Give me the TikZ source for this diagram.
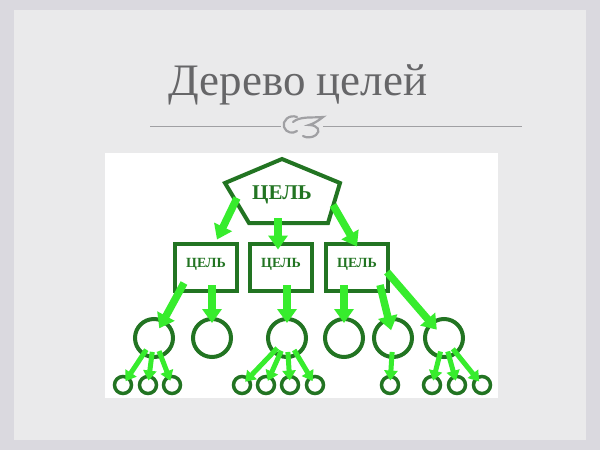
\documentclass[tikz,border=0pt]{standalone}
\usepackage{fontspec}
\setmainfont{Liberation Serif}
\usetikzlibrary{arrows.meta,calc}

\definecolor{leafgreen}{RGB}{34,116,34}
\definecolor{arrowgreen}{RGB}{55,236,45}
\definecolor{titlegray}{RGB}{102,102,104}
\definecolor{slidebg}{RGB}{234,234,235}
\definecolor{slideedge}{RGB}{218,217,223}
\definecolor{rulegray}{RGB}{160,160,163}

\tikzstyle{subgoal}=[draw=leafgreen, line width=4pt, minimum width=62pt, minimum height=47pt, text=leafgreen, font=\fontsize{14}{14}\selectfont\bfseries, text height=10.5pt, text depth=10pt]
\tikzstyle{task}=[draw=leafgreen, line width=4pt, circle, minimum size=38pt, inner sep=0pt]
\tikzstyle{leaf}=[draw=leafgreen, line width=3.5pt, circle, minimum size=17pt, inner sep=0pt]
\tikzstyle{com}=[arrowgreen, line width=7.5pt, -{Triangle[width=19pt,length=14pt]}]
\tikzstyle{comsmall}=[arrowgreen, line width=5pt, -{Triangle[width=13pt,length=10pt]}, shorten <=14pt, shorten >=4.5pt]
\tikzstyle{flourish}=[rulegray, line width=2.2pt, line cap=round]

\begin{document}
\begin{tikzpicture}[x=1pt, y=-1pt]
      \useasboundingbox (0,0) rectangle (600,450);
      \fill[slideedge] (0,0) rectangle (600,450);
      \fill[slidebg] (14,10) rectangle (586,440);

      % title and rule
      \node[anchor=base, text=titlegray, font=\fontsize{45}{45}\selectfont] (title) at (298,95) {Дерево целей};
      \draw[rulegray, line width=1pt] (150,126) -- (281,126);
      \draw[rulegray, line width=1pt] (323,126) -- (522,126);
      \draw[flourish] (297,117) .. controls (289,114) and (282,121) .. (284,127) .. controls (286,133) and (293,134) .. (297,131);
      \draw[flourish] (293,122) .. controls (300,116) and (312,118) .. (323,117) .. controls (318,121) and (313,124) .. (309,125) .. controls (318,125) and (321,131) .. (316,135) .. controls (312,138) and (306,138) .. (303,136);

      \fill[white] (105,153) rectangle (498,398);

      % goal
      \node[text=leafgreen, font=\fontsize{21}{21}\selectfont\bfseries] (goal) at (282,195) {ЦЕЛЬ};
      \draw[leafgreen, line width=4pt] ($(goal)+(0,-36)$) -- ($(goal)+(-57,-12)$) -- ($(goal)+(-33,28)$) -- ($(goal)+(46,28)$) -- ($(goal)+(58,-12)$) -- cycle;

      \node[subgoal] (b1) at (206,267) {ЦЕЛЬ};
      \node[subgoal] (b2) at (281,267) {ЦЕЛЬ};
      \node[subgoal] (b3) at (357,267) {ЦЕЛЬ};

      \node[task] (c1) at (154,338) {};
      \node[task] (c2) at (212,338) {};
      \node[task] (c3) at (287,338) {};
      \node[task] (c4) at (344,338) {};
      \node[task] (c5) at (393,338) {};
      \node[task] (c6) at (444,338) {};

      \node[leaf] (s1) at (123,385) {};
      \node[leaf] (s2) at (148,385) {};
      \node[leaf] (s3) at (172,385) {};
      \node[leaf] (s4) at (242,385) {};
      \node[leaf] (s5) at (266,385) {};
      \node[leaf] (s6) at (290,385) {};
      \node[leaf] (s7) at (315,385) {};
      \node[leaf] (s8) at (390,385) {};
      \node[leaf] (s9) at (432,385) {};
      \node[leaf] (s10) at (457,385) {};
      \node[leaf] (s11) at (482,385) {};

      \draw[com] ($(goal)+(-45,3)$) -- ($(b1.north)+(11,-2)$);
      \draw[com] ($(goal)+(-4,23)$) -- ($(b2.north)+(-3,8)$);
      \draw[com] ($(goal)+(51,10)$) -- ($(b3.north)+(0,5)$);

      \draw[com, shorten >=11pt] ($(b1)+(-22,16)$) -- (c1.center);
      \draw[com, shorten <=18pt, shorten >=15pt] (c2 |- b1) -- (c2.center);
      \draw[com, shorten <=18pt, shorten >=15pt] (c3 |- b2) -- (c3.center);
      \draw[com, shorten <=18pt, shorten >=15pt] (c4 |- b3) -- (c4.center);
      \draw[com, shorten >=8pt] ($(b3)+(23,18)$) -- (c5.center);
      \draw[com, shorten >=11pt] ($(b3)+(30,5)$) -- (c6.center);

      \draw[comsmall] (c1.center) -- (s1.center);
      \draw[comsmall] (c1.center) -- (s2.center);
      \draw[comsmall] (c1.center) -- (s3.center);
      \draw[comsmall] (c3.center) -- (s4.center);
      \draw[comsmall] (c3.center) -- (s5.center);
      \draw[comsmall] (c3.center) -- (s6.center);
      \draw[comsmall] (c3.center) -- (s7.center);
      \draw[comsmall] (c5.center) -- (s8.center);
      \draw[comsmall] (c6.center) -- (s9.center);
      \draw[comsmall] (c6.center) -- (s10.center);
      \draw[comsmall] (c6.center) -- (s11.center);
    \end{tikzpicture}
\end{document}
